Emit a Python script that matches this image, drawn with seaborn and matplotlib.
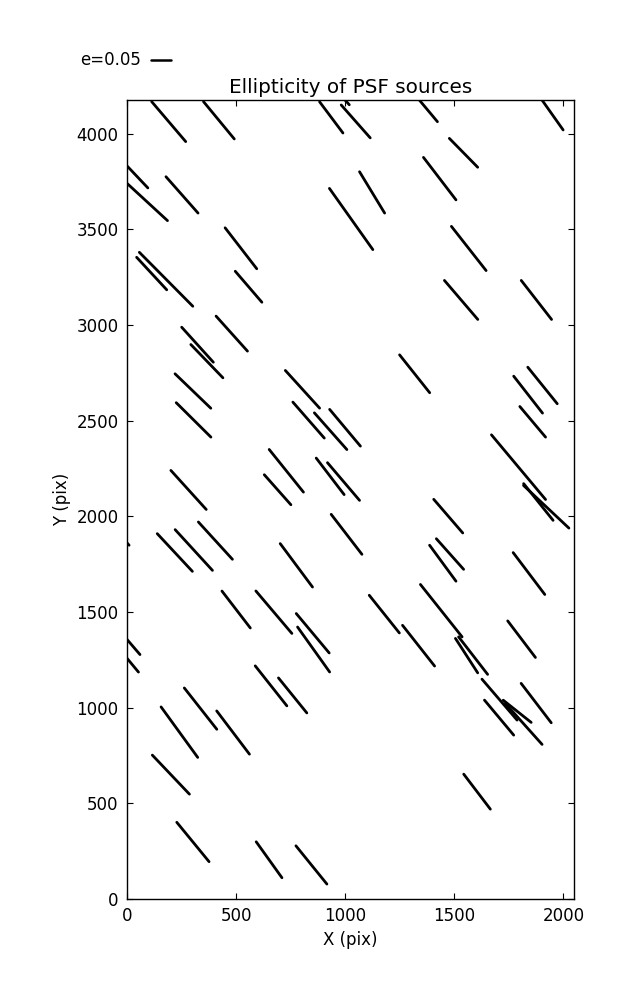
import numpy as np
import pandas as pd
import seaborn as sns
import matplotlib.pyplot as plt
import matplotlib.transforms as mtransforms

# star positions (pix) and whisker components (pix)
x = [191, 421, 936, 982, 1048, 1365, 1935, 32, 86, 252,
     1542, 1433, 1123, 1027, 522, 1566, 179, 113, 557, 1531,
     1876, 480, 323, 366, 302, 305, 1318, 804, 832, 933,
     999, 1904, 1838, 1859, 1794, 730, 690, 931, 992, 282,
     1472, 1885, 1921, 405, 219, 306, -57, 1006, 1480, 1447,
     1842, 776, 1440, 500, 673, 1179, 851, 855, 1336, 1808,
     1556, 1586, 2, -8, 660, 759, 337, 1707, 1875, 1705,
     1788, 1818, 240, 486, 201, 1604, 302, 651, 845]
y = [4063, 4070, 4085, 4198, 4064, 4141, 4122, 3793, 3650, 3680,
     3900, 3765, 3693, 3554, 3401, 3400, 3239, 3269, 3200, 3131,
     3131, 2955, 2897, 2811, 2655, 2504, 2745, 2664, 2503, 2445,
     2463, 2684, 2636, 2494, 2257, 2238, 2139, 2209, 2182, 2138,
     2001, 2075, 2050, 1873, 1811, 1824, 1935, 1906, 1803, 1755,
     1701, 1744, 1507, 1513, 1499, 1489, 1389, 1304, 1324, 1358,
     1272, 1272, 1354, 1269, 1114, 1064, 995, 1042, 1024, 948,
     981, 915, 872, 870, 650, 561, 298, 205, 178]
u = [156, 141, 107, 73, 133, 115, 127, 127, 199, 147,
     130, 149, 115, 199, 145, 159, 245, 138, 122, 153,
     139, 144, 145, 147, 164, 159, 138, 157, 144, 149,
     141, 135, 132, 118, 248, 157, 122, 128, 147, 162,
     133, 135, 208, 156, 161, 171, 133, 141, 125, 121,
     145, 148, 191, 130, 165, 138, 151, 147, 147, 127,
     102, 133, 115, 121, 145, 130, 149, 161, 138, 134,
     128, 168, 168, 150, 170, 122, 148, 118, 142]
v = [-209, -195, -163, -94, -172, -157, -205, -153, -209, -190,
     -151, -222, -216, -320, -214, -231, -282, -170, -162, -204,
     -204, -183, -183, -174, -180, -180, -198, -197, -188, -192,
     -192, -191, -193, -160, -338, -223, -157, -191, -197, -204,
     -176, -192, -223, -195, -197, -213, -172, -209, -160, -188,
     -219, -227, -274, -193, -222, -197, -206, -235, -213, -191,
     -180, -196, -153, -166, -209, -183, -216, -214, -206, -183,
     -116, -214, -264, -226, -204, -183, -206, -188, -200]

scale = 1840  # pix of whisker per unit ellipticity
e_key = 0.05

rows = []
for i in range(len(x)):
    rows.append({"id": i, "x": x[i] - u[i] / 2, "y": y[i] - v[i] / 2})
    rows.append({"id": i, "x": x[i] + u[i] / 2, "y": y[i] + v[i] / 2})
df = pd.DataFrame(rows)

sns.set_style("ticks")
plt.rcParams.update({
    "font.family": ["DejaVu Sans"],
    "font.size": 12,
    "text.color": "black",
    "axes.labelcolor": "black",
    "xtick.color": "black", "ytick.color": "black",
    "xtick.direction": "in", "ytick.direction": "in",
    "xtick.top": True, "ytick.right": True,
    "xtick.major.size": 4, "ytick.major.size": 4,
    "axes.linewidth": 1.0,
    "axes.edgecolor": "black",
})

fig = plt.figure(figsize=(6.37, 10), dpi=100)
ax = fig.add_axes([0.1994, 0.101, 0.7016, 0.799])
sns.lineplot(data=df, x="x", y="y", units="id", estimator=None, sort=False,
             color="black", linewidth=2.0, legend=False, ax=ax)

ax.set_xlim(0, 2048)
ax.set_ylim(0, 4176)
ax.set_xticks(np.arange(0, 2001, 500))
ax.set_yticks(np.arange(0, 4001, 500))
ax.tick_params(labelsize=12, colors="black", pad=6)
ax.set_xlabel("X (pix)", fontsize=12, color="black")
ax.set_ylabel("Y (pix)", fontsize=12, color="black")
ax.set_title("Ellipticity of PSF sources", fontsize=14.4, pad=5, color="black")

# key whisker above the axes
trans = mtransforms.blended_transform_factory(ax.transData, ax.transAxes)
ax.plot([110, 110 + e_key * scale], [1.05, 1.05], transform=trans,
        color="black", linewidth=1.8, clip_on=False)
fig.text(141 / 637, 1 - 60 / 1000, "e=%.2f" % e_key, ha="right", va="center",
         fontsize=12, color="black")

fig.savefig("out.png", dpi=100)
